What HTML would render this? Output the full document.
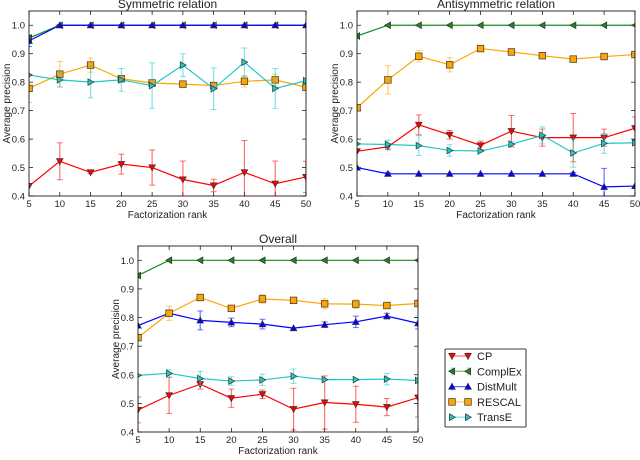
<!DOCTYPE html>
<html><head><meta charset="utf-8"><style>
body{margin:0;background:#fff;}
svg text{font-family:"Liberation Sans",sans-serif;fill:#222;}
</style></head><body>
<svg id="c" width="640" height="455" xmlns="http://www.w3.org/2000/svg"></svg>
<script>
const ranks=[5,10,15,20,25,30,35,40,45,50];
const yTicks=[0.4,0.5,0.6,0.7,0.8,0.9,1.0];
const seriesNames=["CP","ComplEx","DistMult","RESCAL","TransE"];
const symCP=[0.435,0.522,0.483,0.512,0.5,0.458,0.437,0.483,0.443,0.467];
const symCPerr=[0,0.065,0.005,0.035,0.062,0.065,0.022,0.112,0.08,0.055];
const symComplEx=[0.955,1,1,1,1,1,1,1,1,1];
const symComplExErr=[0.01,0,0,0,0,0,0,0,0,0];
const symDistMult=[0.945,1,1,1,1,1,1,1,1,1];
const symDistMultErr=[0.02,0,0,0,0,0,0,0,0,0];
const symRESCAL=[0.778,0.828,0.86,0.812,0.797,0.793,0.788,0.803,0.808,0.782];
const symRESCALerr=[0.05,0.045,0.025,0.01,0.01,0.01,0.01,0.02,0.02,0.01];
const symTransE=[0.825,0.808,0.8,0.808,0.788,0.86,0.777,0.87,0.778,0.805];
const symTransEerr=[0,0.025,0.055,0.04,0.08,0.04,0.073,0.05,0.07,0];
const antCP=[0.557,0.573,0.65,0.615,0.578,0.628,0.605,0.605,0.605,0.638];
const antCPerr=[0,0.01,0.035,0.015,0.015,0.055,0.03,0.085,0.03,0.04];
const antComplEx=[0.962,1,1,1,1,1,1,1,1,1];
const antComplExErr=[0,0,0,0,0,0,0,0,0,0];
const antDistMult=[0.5,0.478,0.478,0.478,0.478,0.478,0.478,0.478,0.432,0.435];
const antDistMultErr=[0,0.005,0,0,0,0,0,0.005,0.065,0];
const antRESCAL=[0.71,0.808,0.891,0.861,0.918,0.906,0.893,0.881,0.89,0.897];
const antRESCALerr=[0,0.05,0.02,0.025,0.01,0.01,0.01,0.01,0.01,0.01];
const antTransE=[0.583,0.581,0.577,0.56,0.558,0.582,0.613,0.551,0.585,0.587];
const antTransEerr=[0,0.015,0.035,0.02,0,0.01,0.03,0.05,0.035,0];
const allCP=[0.477,0.528,0.567,0.518,0.532,0.48,0.503,0.497,0.487,0.52];
const allCPerr=[0.045,0.063,0.017,0.032,0.015,0.073,0.093,0.063,0.03,0.068];
const allComplEx=[0.947,1,1,1,1,1,1,1,1,1];
const allComplExErr=[0,0,0,0,0,0,0,0,0,0];
const allDistMult=[0.772,0.815,0.79,0.783,0.777,0.763,0.775,0.785,0.805,0.78];
const allDistMultErr=[0,0.01,0.033,0.015,0.017,0,0.01,0.02,0.01,0.02];
const allRESCAL=[0.73,0.815,0.87,0.832,0.865,0.86,0.848,0.847,0.842,0.849];
const allRESCALerr=[0.01,0.025,0.005,0.01,0.015,0.005,0.018,0.015,0.01,0.01];
const allTransE=[0.598,0.605,0.587,0.578,0.582,0.595,0.583,0.583,0.585,0.58];
const allTransEerr=[0,0.013,0.025,0.015,0.02,0.025,0,0,0.02,0];

const NS="http://www.w3.org/2000/svg";
const svg=document.getElementById('c');
const colors={CP:"#ff0000",ComplEx:"#1a8a1a",DistMult:"#0000ff",RESCAL:"#ffa500",TransE:"#20c8c8"};
const markers={CP:"down",ComplEx:"left",DistMult:"up",RESCAL:"square",TransE:"right"};
function el(tag,attrs,parent){const e=document.createElementNS(NS,tag);for(const k in attrs)e.setAttribute(k,attrs[k]);(parent||svg).appendChild(e);return e;}
function marker(kind,x,y,fill,g){
  const r=3.3;let d;
  if(kind==="square"){return el('rect',{x:x-3.3,y:y-3.3,width:6.6,height:6.6,fill:fill,stroke:"#333","stroke-width":0.7},g);}
  if(kind==="down")d=`M${x-r},${y-r*0.8}L${x+r},${y-r*0.8}L${x},${y+r}Z`;
  if(kind==="up")d=`M${x-r},${y+r*0.8}L${x+r},${y+r*0.8}L${x},${y-r}Z`;
  if(kind==="left")d=`M${x+r*0.8},${y-r}L${x+r*0.8},${y+r}L${x-r},${y}Z`;
  if(kind==="right")d=`M${x-r*0.8},${y-r}L${x-r*0.8},${y+r}L${x+r},${y}Z`;
  return el('path',{d:d,fill:fill,stroke:"#333","stroke-width":0.7},g);
}
function panel(name,title,L,R,T,B,data){
  const g=el('g',{});
  
  
  const xs=v=>L+(v-5)/45*(R-L);
  const ys=v=>B-(v-0.4)/0.65*(B-T);
  const t=el('text',{x:(L+R)/2,y:T-3,"text-anchor":"middle","font-size":12},g);t.textContent=title;
  
  yTicks.forEach(v=>{const y=ys(v);
    el('line',{x1:L,x2:L+4,y1:y,y2:y,stroke:"#000","stroke-width":0.7},g);
    el('line',{x1:R,x2:R-4,y1:y,y2:y,stroke:"#000","stroke-width":0.7},g);
    const tx=el('text',{x:L-4,y:y+3.5,"text-anchor":"end","font-size":9.5},g);tx.textContent=v.toFixed(1);
    });
  ranks.forEach(v=>{const x=xs(v);
    el('line',{x1:x,x2:x,y1:B,y2:B-4,stroke:"#000","stroke-width":0.7},g);
    el('line',{x1:x,x2:x,y1:T,y2:T+4,stroke:"#000","stroke-width":0.7},g);
    const tx=el('text',{x:x,y:B+11,"text-anchor":"middle","font-size":9.5},g);tx.textContent=v;
    });
  const xl=el('text',{x:(L+R)/2,y:B+22,"text-anchor":"middle","font-size":10},g);xl.textContent="Factorization rank";
  
  const cy=(T+B)/2;const yl=el('text',{x:L-19,y:cy,"text-anchor":"middle","font-size":10,transform:`rotate(-90 ${L-19} ${cy})`},g);yl.textContent="Average precision";
  
  const clip=el('clipPath',{id:'cl'+name},g);el('rect',{x:L,y:T,width:R-L,height:B-T},clip);
  const pg=el('g',{"clip-path":`url(#cl${name})`},g);
  data.forEach(([s,vals,errs])=>{
    const sg=el('g',{},pg);
    
    
    const c=colors[s];
    vals.forEach((v,i)=>{const e=errs[i];if(e>0){const x=xs(ranks[i]);
      el('line',{x1:x,x2:x,y1:ys(v-e),y2:ys(v+e),stroke:c,"stroke-opacity":0.55,"stroke-width":1.2},sg);
      el('line',{x1:x-3,x2:x+3,y1:ys(v-e),y2:ys(v-e),stroke:c,"stroke-opacity":0.55},sg);
      el('line',{x1:x-3,x2:x+3,y1:ys(v+e),y2:ys(v+e),stroke:c,"stroke-opacity":0.55},sg);}});
    el('polyline',{points:vals.map((v,i)=>xs(ranks[i])+","+ys(v)).join(" "),fill:"none",stroke:c,"stroke-width":1.2},sg);
    vals.forEach((v,i)=>{const m=marker(markers[s],xs(ranks[i]),ys(v),c,sg);
      });
  });
  el('rect',{x:L,y:T,width:R-L,height:B-T,fill:"none",stroke:"#000","stroke-width":0.8},g);
}
panel('symmetric-panel','Symmetric relation',29,306,11,196,[["CP",symCP,symCPerr],["ComplEx",symComplEx,symComplExErr],["DistMult",symDistMult,symDistMultErr],["RESCAL",symRESCAL,symRESCALerr],["TransE",symTransE,symTransEerr]]);
panel('antisymmetric-panel','Antisymmetric relation',357,635,11,196,[["CP",antCP,antCPerr],["ComplEx",antComplEx,antComplExErr],["DistMult",antDistMult,antDistMultErr],["RESCAL",antRESCAL,antRESCALerr],["TransE",antTransE,antTransEerr]]);
panel('overall-panel','Overall',138,418,246,432,[["CP",allCP,allCPerr],["ComplEx",allComplEx,allComplExErr],["DistMult",allDistMult,allDistMultErr],["RESCAL",allRESCAL,allRESCALerr],["TransE",allTransE,allTransEerr]]);
const lg=el('g',{});


el('rect',{x:445,y:349,width:81,height:78,fill:"#fff",stroke:"#000","stroke-width":0.8,rx:1},lg);
seriesNames.forEach((s,i)=>{const y=356+i*15.3;const c=colors[s];
  const eg=el('g',{},lg);
  
  
  el('line',{x1:452,x2:468,y1:y,y2:y,stroke:c,"stroke-width":1.2,"stroke-opacity":0.6},eg);
  [452,468].forEach(x=>{el('line',{x1:x,x2:x,y1:y-4,y2:y+4,stroke:c,"stroke-opacity":0.5},eg);marker(markers[s],x,y,c,eg);});
  const t=el('text',{x:477,y:y+4,"font-size":11},eg);t.textContent=s;});
</script>
</body></html>
